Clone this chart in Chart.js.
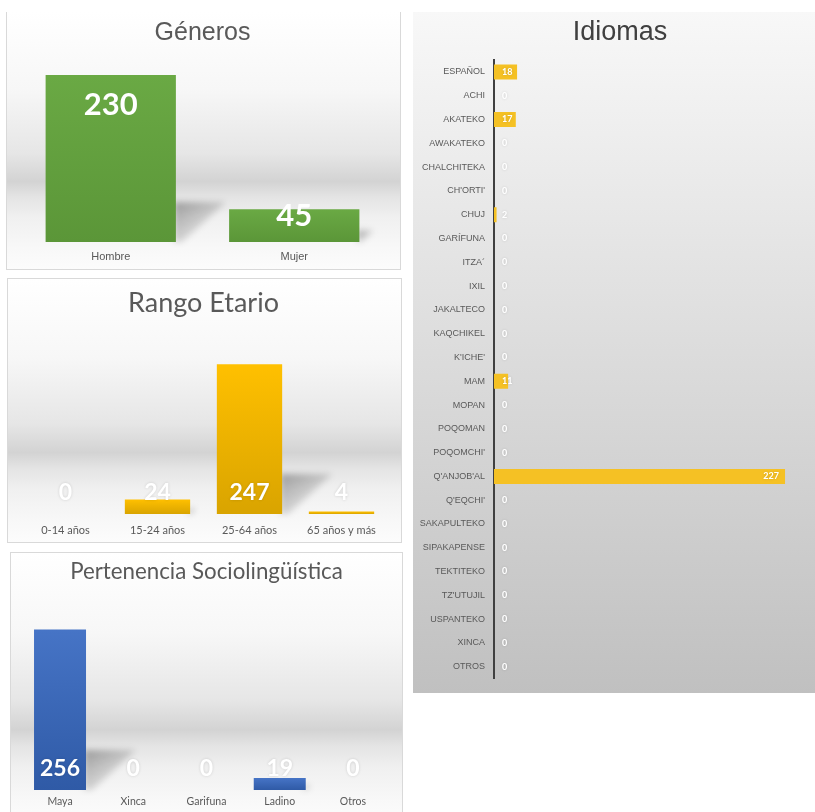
<!DOCTYPE html>
<html>
<head>
<meta charset="utf-8">
<script src="https://cdn.jsdelivr.net/npm/chart.js@4.4.1/dist/chart.umd.min.js"></script>
<style>
  body { margin: 0; background: #fff; width: 815px; height: 812px; overflow: hidden; position: relative; }
  .panel { position: absolute; box-sizing: border-box; }
  .floor { background: linear-gradient(to bottom, #fff 0%, #f7f7f7 30%, #e6e6e6 55%, #d3d3d3 66%, #e4e4e4 72%, #f0f0f0 80%, #f8f8f8 92%, #fcfcfc 100%); }
  canvas { position: absolute; }
</style>
</head>
<body>
<div class="panel floor" style="left:6px;top:12px;width:395px;height:258px;border:1px solid #d9d9d9;border-top:none"></div>
<div class="panel floor" style="left:7px;top:278px;width:395px;height:265px;border:1px solid #d9d9d9"></div>
<div class="panel floor" style="left:10px;top:552px;width:393px;height:270px;border:1px solid #d9d9d9"></div>
<div class="panel" style="left:413px;top:12px;width:402px;height:681px;background:linear-gradient(to bottom,#f8f8f8,#dcdcdc 50%,#c0c0c0)"></div>

<canvas id="generos" width="395" height="258" style="left:6px;top:12px"></canvas>
<canvas id="edades" width="395" height="265" style="left:7px;top:278px"></canvas>
<canvas id="pertenencia" width="393" height="260" style="left:10px;top:552px"></canvas>
<canvas id="idiomas" width="402" height="681" style="left:413px;top:12px"></canvas>

<script>
// data
const generos = ['Hombre', 'Mujer'];
const generosValues = [230, 45];

const edades = ['0-14 años', '15-24 años', '25-64 años', '65 años y más'];
const edadesValues = [0, 24, 247, 4];

const pertenencia = ['Maya', 'Xinca', 'Garifuna', 'Ladino', 'Otros'];
const pertenenciaValues = [256, 0, 0, 19, 0];

const idiomas = ['ESPAÑOL', 'ACHI', 'AKATEKO', 'AWAKATEKO', 'CHALCHITEKA', "CH'ORTI'", 'CHUJ',
  'GARÍFUNA', 'ITZA´', 'IXIL', 'JAKALTECO', 'KAQCHIKEL', "K'ICHE'", 'MAM', 'MOPAN', 'POQOMAN',
  "POQOMCHI'", "Q'ANJOB'AL", "Q'EQCHI'", 'SAKAPULTEKO', 'SIPAKAPENSE', 'TEKTITEKO', "TZ'UTUJIL",
  'USPANTEKO', 'XINCA', 'OTROS'];
const idiomasValues = [18, 0, 17, 0, 0, 0, 2, 0, 0, 0, 0, 0, 0, 11, 0, 0, 0, 227, 0, 0, 0, 0, 0, 0, 0, 0];

const grey = '#595959';

// gradient per bar, lighter on top
function barGradient(top, bottom) {
  return function (c) {
    const chart = c.chart;
    const y = chart.scales.y;
    if (!chart.chartArea || !y || c.raw == null) return top;
    const y0 = y.getPixelForValue(c.raw);
    const y1 = y.getPixelForValue(0);
    if (y1 - y0 < 1) return top;
    const g = chart.ctx.createLinearGradient(0, y0, 0, y1);
    g.addColorStop(0, top);
    g.addColorStop(1, bottom);
    return g;
  };
}

// soft floor shadow to the right of each column
const shadowPlugin = {
  id: 'barShadow',
  beforeDatasetsDraw(chart) {
    const ctx = chart.ctx;
    chart.getDatasetMeta(0).data.forEach(bar => {
      const h = bar.base - bar.y;
      if (h < 3) return;
      const s = Math.min(h * 0.35, 40);
      const xr = bar.x + bar.width / 2;
      const g = ctx.createLinearGradient(xr, bar.base - s, xr + s * 0.8, bar.base);
      g.addColorStop(0, 'rgba(0,0,0,0.32)');
      g.addColorStop(1, 'rgba(0,0,0,0.03)');
      ctx.save();
      ctx.filter = 'blur(3px)';
      ctx.fillStyle = g;
      ctx.beginPath();
      ctx.moveTo(xr - 2, bar.base);
      ctx.lineTo(xr - 2, bar.base - s);
      ctx.lineTo(xr + s * 1.25, bar.base - s);
      ctx.lineTo(xr + s * 0.15, bar.base);
      ctx.closePath();
      ctx.fill();
      ctx.restore();
    });
  }
};

function valueLabels(font, place, glow) {
  return {
    id: 'valueLabels',
    afterDatasetsDraw(chart) {
      const ctx = chart.ctx;
      const values = chart.data.datasets[0].data;
      ctx.save();
      ctx.font = font;
      ctx.fillStyle = '#ffffff';
      ctx.textBaseline = 'middle';
      if (glow) {
        ctx.shadowColor = 'rgba(0,0,0,0.15)';
        ctx.shadowBlur = 3;
      }
      chart.getDatasetMeta(0).data.forEach((bar, i) => {
        const txt = String(values[i]);
        const p = place(bar, ctx.measureText(txt).width);
        ctx.textAlign = p.align || 'center';
        ctx.fillText(txt, p.x, p.y);
      });
      ctx.restore();
    }
  };
}

function columnOptions(title, titleFont, titlePad, max, axisHeight, tickPad, pad, tickFont) {
  return {
    responsive: false,
    animation: false,
    layout: { padding: pad },
    plugins: {
      legend: { display: false },
      tooltip: { enabled: false },
      title: {
        display: true,
        text: title,
        color: grey,
        font: titleFont,
        padding: titlePad
      }
    },
    scales: {
      x: {
        grid: { display: false, drawTicks: false },
        border: { display: false },
        ticks: { color: grey, font: tickFont, padding: tickPad, maxRotation: 0, autoSkip: false },
        afterFit(scale) { scale.height = axisHeight; }
      },
      y: { display: false, min: 0, max: max }
    }
  };
}

// Géneros
new Chart(document.getElementById('generos'), {
  type: 'bar',
  data: {
    labels: generos,
    datasets: [{
      data: generosValues,
      backgroundColor: barGradient('#6aa944', '#5b9638'),
      categoryPercentage: 1,
      barPercentage: 0.71
    }]
  },
  options: columnOptions('Géneros', { family: 'Liberation Sans', size: 25, weight: 'normal' },
    { top: 6, bottom: 12.5 }, 250, 28, 8.5, { left: 13, right: 15, bottom: 0 },
    { family: 'Liberation Sans', size: 11 }),
  plugins: [shadowPlugin, valueLabels('bold 31px Lato', (bar) => ({
    x: bar.x, y: Math.min(bar.y + 30, bar.base - 26)
  }), false)]
});

// Rango Etario
new Chart(document.getElementById('edades'), {
  type: 'bar',
  data: {
    labels: edades,
    datasets: [{
      data: edadesValues,
      backgroundColor: barGradient('#ffc000', '#d9a400'),
      categoryPercentage: 1,
      barPercentage: 0.71
    }]
  },
  options: columnOptions('Rango Etario', { family: 'Lato', size: 27, weight: 'normal' },
    { top: 9, bottom: 12.8 }, 300, 29, 9.5, { left: 12.5, right: 14.5, bottom: 0 },
    { family: 'Lato', size: 11 }),
  plugins: [shadowPlugin, valueLabels('bold 23px Lato', (bar) => ({
    x: bar.x, y: bar.base - 21
  }), true)]
});

// Pertenencia Sociolingüística
new Chart(document.getElementById('pertenencia'), {
  type: 'bar',
  data: {
    labels: pertenencia,
    datasets: [{
      data: pertenenciaValues,
      backgroundColor: barGradient('#4674c6', '#2f5aa6'),
      categoryPercentage: 1,
      barPercentage: 0.71
    }]
  },
  options: columnOptions('Pertenencia Sociolingüística', { family: 'Lato', size: 22.3, weight: 'normal' },
    { top: 6.5, bottom: 16.7 }, 300, 22, 5.5, { left: 13.4, right: 13.4, bottom: 0 },
    { family: 'Lato', size: 10.5 }),
  plugins: [shadowPlugin, valueLabels('bold 23px Lato', (bar) => ({
    x: bar.x, y: bar.base - 21
  }), true)]
});

// Idiomas: title drawn by hand so it can sit centred over the whole panel
const idiomasTitle = {
  id: 'idiomasTitle',
  afterDraw(chart) {
    const ctx = chart.ctx;
    ctx.save();
    ctx.font = '27px "Liberation Sans"';
    ctx.fillStyle = '#404040';
    ctx.textAlign = 'center';
    ctx.textBaseline = 'middle';
    ctx.fillText('Idiomas', 207, 21);
    ctx.restore();
  }
};

new Chart(document.getElementById('idiomas'), {
  type: 'bar',
  data: {
    labels: idiomas,
    datasets: [{
      data: idiomasValues,
      backgroundColor: '#f5c124',
      categoryPercentage: 1,
      barPercentage: 0.63
    }]
  },
  options: {
    responsive: false,
    animation: false,
    indexAxis: 'y',
    layout: { padding: { top: 48.1, right: 13.3, bottom: 13.1 } },
    plugins: {
      legend: { display: false },
      tooltip: { enabled: false }
    },
    scales: {
      x: { display: false, min: 0, max: 240 },
      y: {
        grid: { display: false, drawTicks: false },
        border: { display: true, color: '#404040', width: 2 },
        ticks: {
          color: grey,
          padding: 9,
          autoSkip: false,
          font: { family: 'Liberation Sans', size: 9 }
        },
        afterFit(scale) { scale.width = 81; }
      }
    }
  },
  plugins: [idiomasTitle, valueLabels('bold 9px Lato', (bar, w) => ({
    x: Math.max(bar.x - 6 - w, bar.base + 8), y: bar.y, align: 'left'
  }), true)]
});
</script>
</body>
</html>
